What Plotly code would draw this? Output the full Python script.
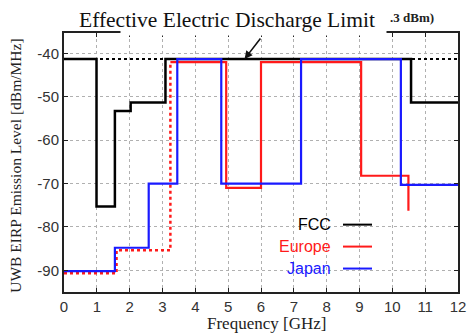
import plotly.graph_objects as go

# ---------------- data ----------------
fcc_x = [0, 0.99, 1.55, 2.03, 3.09, 10.57, 12]
fcc_y = [-41.3, -75.3, -53.3, -51.3, -41.3, -51.3, -51.3]

europe_dot_x = [0, 1.6, 3.24]
europe_dot_y = [-90.7, -85.4, -42.0]
europe_x = [3.24, 4.94, 6.0, 9.05, 10.49]
europe_y = [-42.0, -71.0, -42.0, -68.2, -76.3]

japan_x = [0, 1.55, 2.58, 3.45, 4.79, 7.22, 10.26, 12]
japan_y = [-90.2, -84.8, -70.0, -41.3, -70.0, -41.3, -70.3, -70.3]

limit_x = [0, 12]
limit_y = [-41.3, -41.3]

x_ticks = list(range(0, 13))
y_ticks = [-90, -80, -70, -60, -50, -40]
y_ticktext = ["-90", "-80", "-70", "-60", "-50", "-40"]

legend_names = ["FCC", "Europe", "Japan"]
legend_colors = ["#000000", "#ff1a1a", "#1a1aff"]

BLACK, RED, BLUE = legend_colors

fig = go.Figure()
fig.add_trace(go.Scatter(x=limit_x, y=limit_y, mode="lines",
                         line=dict(color="black", width=2, dash="3px,3px"),
                         showlegend=False, hoverinfo="skip"))
fig.add_trace(go.Scatter(x=fcc_x, y=fcc_y, mode="lines", line_shape="hv",
                         line=dict(color=BLACK, width=2.5), showlegend=False))
fig.add_trace(go.Scatter(x=europe_dot_x, y=europe_dot_y, mode="lines", line_shape="hv",
                         line=dict(color=RED, width=2.5, dash="3px,3px"), showlegend=False))
fig.add_trace(go.Scatter(x=europe_x, y=europe_y, mode="lines", line_shape="hv",
                         line=dict(color=RED, width=2.2), showlegend=False))
fig.add_trace(go.Scatter(x=japan_x, y=japan_y, mode="lines", line_shape="hv",
                         line=dict(color=BLUE, width=2.2), showlegend=False))

sans = "Liberation Sans, Arial, sans-serif"
serif = "Liberation Serif, Times New Roman, serif"

axis_common = dict(showline=True, linecolor="#222", linewidth=2, mirror="ticks",
                   ticks="inside", ticklen=4, tickcolor="#222", automargin=False,
                   showgrid=True, gridcolor="#b0b0b0", griddash="dot", gridwidth=1,
                   zeroline=False, tickfont=dict(family=sans, size=15, color="#333"))

fig.update_xaxes(range=[0, 12], tickvals=x_ticks, **axis_common)
fig.update_yaxes(range=[-95, -35.3], tickvals=y_ticks, ticktext=y_ticktext, **axis_common)

W, H = 473, 333
ml, mr, mt, mb = 64, 15, 33, 40.5
pw = W - ml - mr
ph = H - mt - mb

def px(xp):
    return (xp - ml) / pw

def py(yp):
    return (H - mb - yp) / ph

shapes = []
annotations = [
    # white box that breaks the top frame behind the title
    dict(text="", xref="paper", yref="paper", x=px(120), y=py(32.7),
         xanchor="left", yanchor="middle", showarrow=False,
         width=265, height=5, bgcolor="white", borderpad=0),
    dict(text="Effective Electric Discharge Limit", xref="paper", yref="paper",
         x=px(227), y=py(20), xanchor="center", yanchor="middle", showarrow=False,
         font=dict(family=serif, size=21.5, color="#111")),
    dict(text="<b>.3 dBm)</b>", xref="paper", yref="paper",
         x=px(412), y=py(17), xanchor="center", yanchor="middle", showarrow=False,
         font=dict(family=serif, size=13, color="#222")),
    dict(text="", x=5.5, y=-41.3, xref="x", yref="y", showarrow=True,
         ax=17, ay=-22, arrowhead=2, arrowsize=1, arrowwidth=1.6, arrowcolor="#111"),
    dict(text="UWB EIRP Emission Level [dBm/MHz]", xref="paper", yref="paper",
         x=px(16), y=py(166), xanchor="center", yanchor="middle", textangle=-90,
         showarrow=False, font=dict(family=serif, size=15.5, color="#222")),
    dict(text="Frequency [GHz]", xref="paper", yref="paper",
         x=px(266), y=py(324), xanchor="center", yanchor="middle",
         showarrow=False, font=dict(family=serif, size=17, color="#222")),
]
leg_y = [225, 247, 269]
for name, col, yy in zip(legend_names, legend_colors, leg_y):
    annotations.append(dict(text=name, xref="paper", yref="paper", x=px(333), y=py(yy),
                            xanchor="right", yanchor="middle", showarrow=False,
                            font=dict(family=sans, size=16, color=col)))
    shapes.append(dict(type="line", xref="paper", yref="paper", x0=px(343), x1=px(372),
                       y0=py(yy), y1=py(yy), line=dict(color=col, width=2)))

fig.update_layout(width=W, height=H, margin=dict(l=ml, r=mr, t=mt, b=mb),
                  paper_bgcolor="white", plot_bgcolor="white",
                  shapes=shapes, annotations=annotations, showlegend=False)

fig.write_html("out.html", config={"displayModeBar": False},
               post_script="document.body.style.margin='0';document.body.style.overflow='hidden';")
